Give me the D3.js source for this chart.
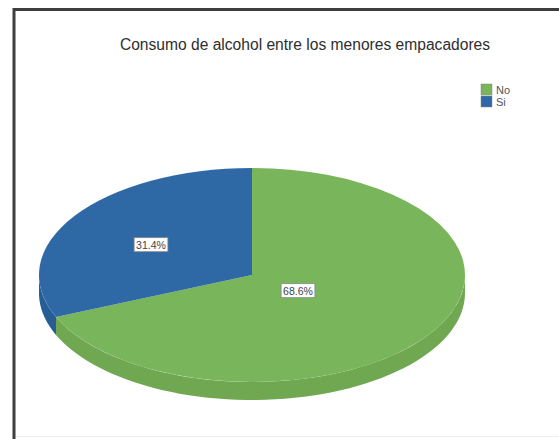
<!DOCTYPE html>
<html>
<head>
<meta charset="utf-8">
<script src="https://cdn.jsdelivr.net/npm/d3@7/dist/d3.min.js"></script>
<style>
  html, body { margin: 0; padding: 0; background: #fff; }
  svg { display: block; }
</style>
</head>
<body>
<script>
// Data
const categories = ["No", "Si"];
const percents = [68.6, 31.4];
const colors = ["#79b55a", "#2e69a6"];
const sideColors = ["#6fa851", "#275d95"];
const title = "Consumo de alcohol entre los menores empacadores";

const W = 559, H = 439;
const svg = d3.select("body").append("svg").attr("width", W).attr("height", H);

// Frame
svg.append("rect").attr("width", W).attr("height", H).attr("fill", "#fff");
svg.append("line").attr("x1", 14).attr("x2", W).attr("y1", 9.5).attr("y2", 9.5)
  .attr("stroke", "#3c3f3e").attr("stroke-width", 3);
svg.append("line").attr("x1", 14).attr("x2", 14).attr("y1", 8).attr("y2", H)
  .attr("stroke", "#3c3f3e").attr("stroke-width", 3);
svg.append("line").attr("x1", 16).attr("x2", W).attr("y1", 436.5).attr("y2", 436.5)
  .attr("stroke", "#eceeed").attr("stroke-width", 1);

// Title
svg.append("text").attr("x", 305).attr("y", 50).attr("text-anchor", "middle")
  .attr("font-family", "Liberation Sans, Arial, sans-serif").attr("font-size", 15.6)
  .attr("fill", "#2e2e2e").text(title);

// Pie geometry (elliptical, with a side wall)
const cx = 252, cy = 275, rx = 213, ry = 107, depth = 18;
const pie = d3.pie().sort(null).value(d => d)(percents);

const pt = (a, dy = 0) => [cx + rx * Math.sin(a), cy - ry * Math.cos(a) + dy];

// Side walls: only the front half (angles between pi/2 and 3pi/2) is visible
const sideG = svg.append("g");
pie.forEach((s, i) => {
  const a0 = Math.max(s.startAngle, Math.PI / 2);
  const a1 = Math.min(s.endAngle, 3 * Math.PI / 2);
  if (a1 <= a0) return;
  const n = 60;
  const top = d3.range(n + 1).map(k => pt(a0 + (a1 - a0) * k / n));
  const bot = d3.range(n + 1).map(k => pt(a1 - (a1 - a0) * k / n, depth));
  sideG.append("path").attr("d", d3.line()(top.concat(bot)) + "Z")
    .attr("fill", sideColors[i]);
});

// Top faces
const arc = d3.arc().innerRadius(0).outerRadius(ry);
svg.append("g").attr("transform", `translate(${cx},${cy}) scale(${rx / ry},1)`)
  .selectAll("path").data(pie).join("path")
  .attr("d", arc).attr("fill", (d, i) => colors[i]);

// Value labels
const labelPos = [[298, 291], [151, 245]];
pie.forEach((s, i) => {
  const g = svg.append("g").attr("transform", `translate(${labelPos[i][0]},${labelPos[i][1]})`);
  const t = g.append("text").attr("text-anchor", "middle").attr("dy", "0.35em")
    .attr("font-family", "Liberation Sans, Arial, sans-serif").attr("font-size", 10.5)
    .attr("fill", "#444").text(d3.format(".1f")(s.data) + "%");
  const bb = t.node().getBBox();
  g.insert("rect", "text").attr("x", bb.x - 2).attr("y", bb.y - 1)
    .attr("width", bb.width + 4).attr("height", bb.height + 2)
    .attr("fill", "#fff").attr("stroke", "#888").attr("stroke-width", 0.8);
});

// Legend
const leg = svg.append("g").attr("transform", "translate(481,84)");
categories.forEach((c, i) => {
  leg.append("rect").attr("x", 0).attr("y", i * 12).attr("width", 11).attr("height", 11)
    .attr("fill", colors[i]).attr("stroke", "#888").attr("stroke-width", 0.5);
  leg.append("text").attr("x", 15).attr("y", i * 12 + 9.5)
    .attr("font-family", "Liberation Sans, Arial, sans-serif").attr("font-size", 11)
    .attr("fill", "#555").text(c);
});
</script>
</body>
</html>
